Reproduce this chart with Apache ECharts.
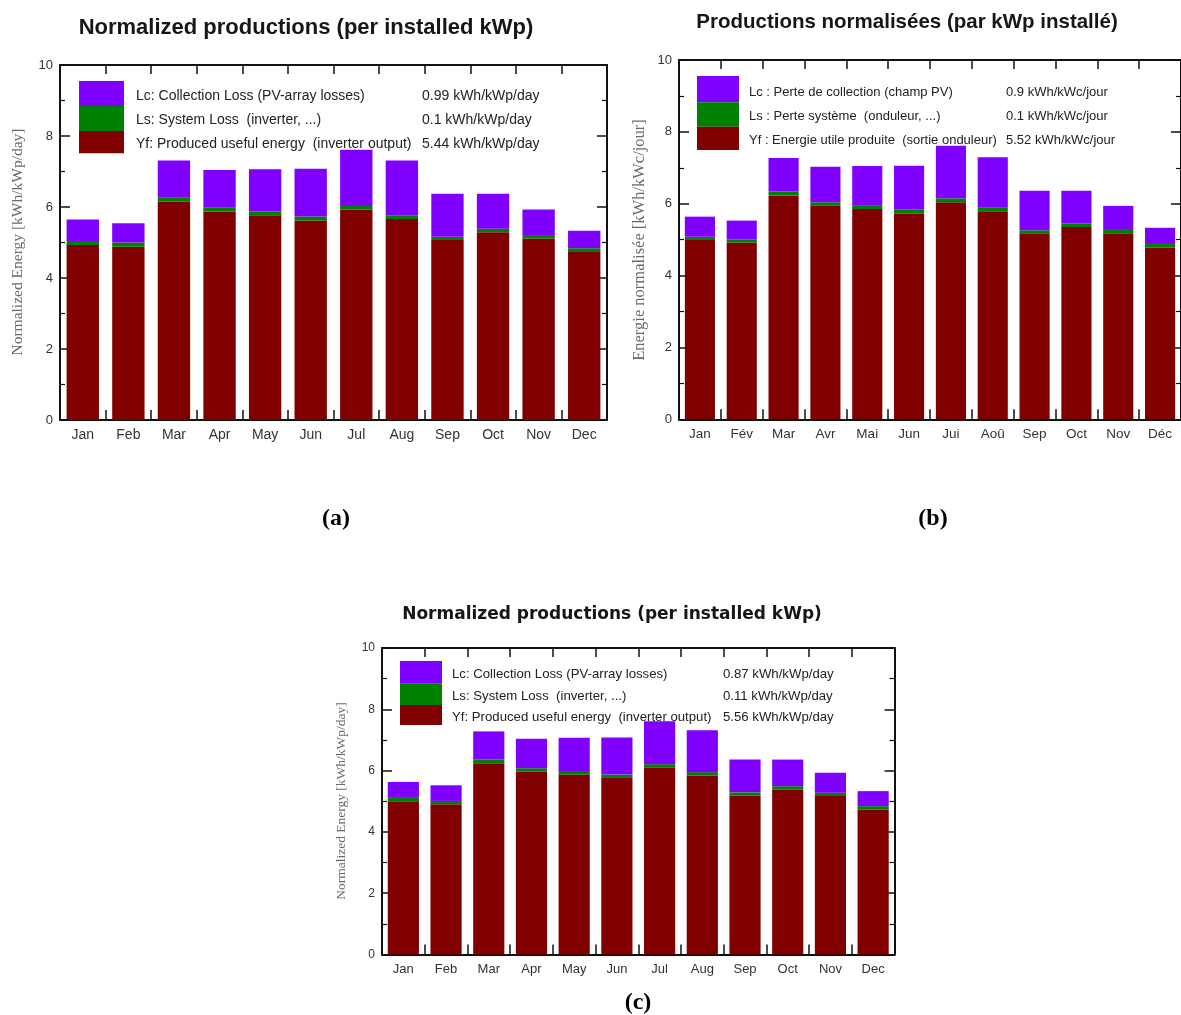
<!DOCTYPE html>
<html>
<head>
<meta charset="utf-8">
<script src="https://cdn.jsdelivr.net/npm/echarts@6/dist/echarts.min.js"></script>
<style>
  html, body { margin: 0; padding: 0; background: #ffffff; }
  #chart { width: 1181px; height: 1015px; }
</style>
</head>
<body>
<div id="chart"></div>
<script>
// Month categories
const monthsEn = ['Jan', 'Feb', 'Mar', 'Apr', 'May', 'Jun', 'Jul', 'Aug', 'Sep', 'Oct', 'Nov', 'Dec'];
const monthsFr = ['Jan', 'Fév', 'Mar', 'Avr', 'Mai', 'Jun', 'Jui', 'Aoû', 'Sep', 'Oct', 'Nov', 'Déc'];

// (a) normalized productions, kWh/kWp/day
const yfA = [4.93, 4.88, 6.15, 5.87, 5.77, 5.62, 5.92, 5.66, 5.07, 5.29, 5.11, 4.73];
const lsA = [0.11, 0.12, 0.11, 0.11, 0.10, 0.11, 0.11, 0.11, 0.09, 0.10, 0.10, 0.11];
const lcA = [0.61, 0.54, 1.05, 1.06, 1.19, 1.35, 1.58, 1.54, 1.21, 0.98, 0.72, 0.49];
const meansA = [0.99, 0.1, 5.44];

// (b) productions normalisées, kWh/kWc/jour
const yfB = [4.99, 4.92, 6.23, 5.94, 5.85, 5.72, 6.04, 5.79, 5.18, 5.35, 5.18, 4.78];
const lsB = [0.09, 0.09, 0.11, 0.10, 0.11, 0.11, 0.11, 0.10, 0.08, 0.10, 0.09, 0.10];
const lcB = [0.56, 0.52, 0.93, 0.99, 1.09, 1.23, 1.46, 1.40, 1.10, 0.91, 0.67, 0.45];
const meansB = [0.9, 0.1, 5.52];

// (c) normalized productions, kWh/kWp/day
const yfC = [5.00, 4.90, 6.24, 5.96, 5.87, 5.76, 6.09, 5.84, 5.18, 5.38, 5.17, 4.73];
const lsC = [0.11, 0.11, 0.12, 0.12, 0.12, 0.11, 0.12, 0.11, 0.11, 0.11, 0.11, 0.11];
const lcC = [0.52, 0.51, 0.92, 0.96, 1.08, 1.21, 1.40, 1.37, 1.07, 0.87, 0.65, 0.49];
const meansC = [0.87, 0.11, 5.56];

// Axis range
const yMin = 0, yMax = 10, yStep = 2;

// Texts
const textsEn = {
  title: 'Normalized productions (per installed kWp)',
  yName: 'Normalized Energy [kWh/kWp/day]',
  rows: ['Lc: Collection Loss (PV-array losses)', 'Ls: System Loss  (inverter, ...)', 'Yf: Produced useful energy  (inverter output)'],
  unit: 'kWh/kWp/day'
};
const textsFr = {
  title: 'Productions normalisées (par kWp installé)',
  yName: 'Energie normalisée [kWh/kWc/jour]',
  rows: ['Lc : Perte de collection (champ PV)', 'Ls : Perte système  (onduleur, ...)', 'Yf : Energie utile produite  (sortie onduleur)'],
  unit: 'kWh/kWc/jour'
};

const COLORS = { lc: '#8000ff', ls: '#008000', yf: '#800000' };
const SANS = '"Liberation Sans", Arial, sans-serif';
const SERIF = '"Liberation Serif", "Times New Roman", serif';

// Panels: data + layout
const panels = [
  {
    months: monthsEn, yf: yfA, ls: lsA, lc: lcA, means: meansA, texts: textsEn, caption: '(a)',
    grid: { left: 60, top: 65, width: 547, height: 355 },
    barWidth: '71%',
    title: { x: 306, y: 28, font: 'bold 22px ' + SANS },
    yName: { x: 18, y: 242, size: 15.5 },
    swatch: { x: 79, y: 81, w: 45, h: [25, 25, 22.3] },
    rows: { x: 136, vx: 422, y: [96, 120.5, 144], size: 14 },
    cap: { x: 336, y: 519 },
    axisFont: 14, yFont: 13
  },
  {
    months: monthsFr, yf: yfB, ls: lsB, lc: lcB, means: meansB, texts: textsFr, caption: '(b)',
    grid: { left: 679, top: 60, width: 504, height: 359.3 },
    barWidth: '72%',
    title: { x: 907, y: 22, font: 'bold 20.5px ' + SANS },
    yName: { x: 640, y: 240, size: 16.5 },
    swatch: { x: 697, y: 76, w: 42, h: [26.3, 24.4, 23.3] },
    rows: { x: 749, vx: 1006, y: [92, 116.5, 140.5], size: 13 },
    cap: { x: 933, y: 519 },
    axisFont: 13.5, yFont: 13
  },
  {
    months: monthsEn, yf: yfC, ls: lsC, lc: lcC, means: meansC, texts: textsEn, caption: '(c)',
    grid: { left: 382, top: 648, width: 512.5, height: 306.5 },
    barWidth: '73%',
    title: { x: 612, y: 615, font: 'bold 17px "DejaVu Sans", Verdana, sans-serif' },
    yName: { x: 341, y: 801, size: 13.5 },
    swatch: { x: 400, y: 661, w: 42, h: [22.7, 21.3, 20] },
    rows: { x: 452, vx: 723, y: [674, 696, 717], size: 13.2 },
    cap: { x: 638, y: 1003 },
    axisFont: 13, yFont: 12
  }
];

const option = {
  backgroundColor: '#ffffff',
  animation: false,
  grid: [], xAxis: [], yAxis: [], series: [], graphic: []
};

// Frame lines stay on the grid edges
const frameLine = { show: true, onZero: false, lineStyle: { color: '#111', width: 2 } };

panels.forEach((p, i) => {
  option.grid.push(Object.assign({ containLabel: false }, p.grid));

  const xi = option.xAxis.length;
  // bottom category axis with labels
  option.xAxis.push({
    type: 'category', gridIndex: i, data: p.months, position: 'bottom',
    axisLine: frameLine,
    axisTick: { show: true, inside: true, length: 10, lineStyle: { color: '#111', width: 1.5 } },
    axisLabel: { color: '#333', fontSize: p.axisFont, fontFamily: SANS, margin: 8 },
    splitLine: { show: false }
  });
  // top frame with ticks
  option.xAxis.push({
    type: 'category', gridIndex: i, data: p.months, position: 'top',
    axisLine: frameLine,
    axisTick: { show: true, inside: true, length: 9, lineStyle: { color: '#111', width: 1.5 } },
    axisLabel: { show: false },
    splitLine: { show: false }
  });

  const yi = option.yAxis.length;
  const yBase = {
    type: 'value', gridIndex: i, min: yMin, max: yMax, interval: yStep,
    axisLine: frameLine,
    axisTick: { show: true, inside: true, length: 10, lineStyle: { color: '#111', width: 1.5 } },
    minorTick: { show: true, splitNumber: 2, length: 5, lineStyle: { color: '#111', width: 1.2 } },
    splitLine: { show: false }
  };
  option.yAxis.push(Object.assign({}, yBase, {
    position: 'left',
    axisLabel: { color: '#333', fontSize: p.yFont, fontFamily: SANS, margin: 7 }
  }));
  option.yAxis.push(Object.assign({}, yBase, {
    position: 'right',
    axisLabel: { show: false }
  }));

  const stack = 'stack' + i;
  [['Yf', p.yf, COLORS.yf], ['Ls', p.ls, COLORS.ls], ['Lc', p.lc, COLORS.lc]].forEach(([name, data, color]) => {
    option.series.push({
      type: 'bar', name: name, stack: stack,
      xAxisIndex: xi, yAxisIndex: yi,
      data: data, barWidth: p.barWidth,
      itemStyle: { color: color },
      emphasis: { disabled: true }
    });
  });

  // title
  option.graphic.push({
    type: 'text', x: p.title.x, y: p.title.y, z: 100,
    style: { text: p.texts.title, font: p.title.font, fill: '#161616', align: 'center', verticalAlign: 'middle' }
  });
  // vertical axis name
  option.graphic.push({
    type: 'text', x: p.yName.x, y: p.yName.y, rotation: Math.PI / 2, z: 100,
    style: { text: p.texts.yName, font: p.yName.size + 'px ' + SERIF, fill: '#6a6a6a', align: 'center', verticalAlign: 'middle' }
  });
  // legend swatch: stacked colour block
  let sy = p.swatch.y;
  [COLORS.lc, COLORS.ls, COLORS.yf].forEach((c, k) => {
    option.graphic.push({
      type: 'rect', z: 100,
      shape: { x: p.swatch.x, y: sy, width: p.swatch.w, height: p.swatch.h[k] },
      style: { fill: c }
    });
    sy += p.swatch.h[k];
  });
  // legend rows and mean values
  p.texts.rows.forEach((t, k) => {
    option.graphic.push({
      type: 'text', x: p.rows.x, y: p.rows.y[k], z: 100,
      style: { text: t, font: p.rows.size + 'px ' + SANS, fill: '#222', align: 'left', verticalAlign: 'middle' }
    });
    option.graphic.push({
      type: 'text', x: p.rows.vx, y: p.rows.y[k], z: 100,
      style: { text: String(p.means[k]) + ' ' + p.texts.unit, font: p.rows.size + 'px ' + SANS, fill: '#222', align: 'left', verticalAlign: 'middle' }
    });
  });
  // panel caption
  option.graphic.push({
    type: 'text', x: p.cap.x, y: p.cap.y, z: 100,
    style: { text: p.caption, font: 'bold 24px ' + SERIF, fill: '#000', align: 'center', verticalAlign: 'middle' }
  });
});

const chart = echarts.init(document.getElementById('chart'), null, { renderer: 'canvas' });
chart.setOption(option);
</script>
</body>
</html>
